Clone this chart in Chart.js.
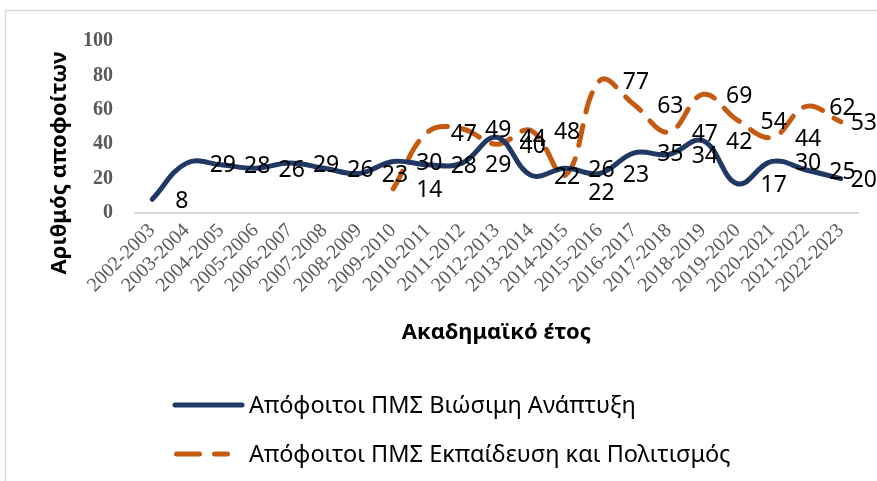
<!DOCTYPE html>
<html>
<head>
<meta charset="utf-8">
<script src="https://cdn.jsdelivr.net/npm/chart.js@4.4.1/dist/chart.umd.min.js"></script>
<style>
    html, body { margin: 0; padding: 0; background: #fff; }
    canvas { display: block; }
</style>
</head>
<body>
<canvas id="gradChart" width="877" height="481"></canvas>
<script>
const years = [
    '2002-2003', '2003-2004', '2004-2005', '2005-2006', '2006-2007', '2007-2008', '2008-2009',
    '2009-2010', '2010-2011', '2011-2012', '2012-2013', '2013-2014', '2014-2015', '2015-2016',
    '2016-2017', '2017-2018', '2018-2019', '2019-2020', '2020-2021', '2021-2022', '2022-2023'
];
const sustainableDev = [8, 29, 28, 26, 29, 26, 23, 30, 28, 29, 44, 22, 26, 23, 35, 34, 42, 17, 30, 25, 20];
const educationCulture = [null, null, null, null, null, null, null, 14, 47, 49, 40, 48, 22, 77, 63, 47, 69, 54, 44, 62, 53];
const yTicks = [0, 20, 40, 60, 80, 100];

const seriesNames = ['Απόφοιτοι ΠΜΣ Βιώσιμη Ανάπτυξη', 'Απόφοιτοι ΠΜΣ Εκπαίδευση και Πολιτισμός'];
const yTitle = 'Αριθμός αποφοίτων';
const xTitle = 'Ακαδημαϊκό έτος';

const BLUE = '#1f3864';
const ORANGE = '#c55a11';
const TITLE_FONT = 'bold 22px "Noto Sans", sans-serif';

// value labels sit to the right of each point (as in the original sheet)
const valueLabels = {
    id: 'valueLabels',
    afterDatasetsDraw(chart) {
        const ctx = chart.ctx;
        ctx.save();
        ctx.font = '23px "Noto Sans", sans-serif';
        ctx.fillStyle = '#000';
        ctx.textAlign = 'left';
        ctx.textBaseline = 'middle';
        chart.data.datasets.forEach((ds, i) => {
            const meta = chart.getDatasetMeta(i);
            meta.data.forEach((pt, j) => {
                const v = ds.data[j];
                if (v === null) return;
                const txt = String(v);
                const w = ctx.measureText(txt).width;
                const nudge = (ds.nudge && ds.nudge[j]) || 0;
                const x = Math.min(pt.x + 23, chart.width - w);
                ctx.fillText(txt, x, pt.y + 2 + nudge);
            });
        });
        ctx.restore();
    }
};

// frame, y title and legend (one item per row, left aligned)
const frameAndLegend = {
    id: 'frameAndLegend',
    beforeDraw(chart) {
        const ctx = chart.ctx;
        ctx.save();
        ctx.strokeStyle = '#d9d9d9';
        ctx.lineWidth = 1.5;
        ctx.strokeRect(5.5, 10.5, 1000, 1000);
        ctx.restore();
    },
    afterDraw(chart) {
        const ctx = chart.ctx;
        ctx.save();
        ctx.translate(60, 163);
        ctx.rotate(-Math.PI / 2);
        ctx.font = TITLE_FONT;
        ctx.fillStyle = '#000';
        ctx.textAlign = 'center';
        ctx.textBaseline = 'middle';
        ctx.fillText(yTitle, 0, 0);
        ctx.restore();

        const rows = [405, 454];
        const samples = [
            { from: 175, to: 242, dash: [] },
            { from: 176.5, to: 227.5, dash: [23, 15] }
        ];
        ctx.save();
        ctx.lineWidth = 5;
        ctx.lineCap = 'round';
        chart.data.datasets.forEach((ds, i) => {
            const y = rows[i];
            ctx.strokeStyle = ds.borderColor;
            ctx.setLineDash(samples[i].dash);
            ctx.beginPath();
            ctx.moveTo(samples[i].from, y);
            ctx.lineTo(samples[i].to, y);
            ctx.stroke();
            ctx.setLineDash([]);
            ctx.fillStyle = '#000';
            ctx.font = '23.5px "Noto Sans", sans-serif';
            ctx.textAlign = 'left';
            ctx.textBaseline = 'middle';
            ctx.fillText(ds.label, 249, y + 1);
        });
        ctx.restore();
    }
};

new Chart(document.getElementById('gradChart'), {
    type: 'line',
    data: {
        labels: years,
        datasets: [
            {
                label: seriesNames[0],
                data: sustainableDev,
                borderColor: BLUE,
                borderWidth: 5,
                borderCapStyle: 'round',
                tension: 0.4,
                pointRadius: 0,
                fill: false
            },
            {
                label: seriesNames[1],
                data: educationCulture,
                borderColor: ORANGE,
                borderWidth: 5,
                borderDash: [20, 14],
                borderCapStyle: 'round',
                tension: 0.4,
                pointRadius: 0,
                fill: false,
                nudge: { 12: 16 }
            }
        ]
    },
    options: {
        responsive: false,
        animation: false,
        devicePixelRatio: 1,
        layout: { padding: { left: 47, top: 41, right: 19, bottom: 135 } },
        plugins: {
            legend: { display: false },
            tooltip: { enabled: false }
        },
        scales: {
            x: {
                offset: true,
                grid: { display: false, drawTicks: false },
                border: { display: true, color: '#d9d9d9', width: 2 },
                ticks: {
                    autoSkip: false,
                    minRotation: 45,
                    maxRotation: 45,
                    padding: 6,
                    color: '#595959',
                    font: { family: '"Liberation Serif", "Times New Roman", serif', size: 20 }
                },
                title: {
                    display: true,
                    text: xTitle,
                    color: '#000',
                    padding: 0,
                    font: { family: '"Noto Sans", sans-serif', size: 22, weight: 'bold' }
                },
                afterFit: scale => { scale.height = 133; }
            },
            y: {
                min: 0,
                max: 100,
                afterBuildTicks: scale => { scale.ticks = yTicks.map(v => ({ value: v })); },
                grid: { display: false, drawTicks: false },
                border: { display: false },
                ticks: {
                    padding: 22,
                    color: '#595959',
                    font: { family: '"Liberation Serif", "Times New Roman", serif', size: 20, weight: 'bold' }
                },
                afterFit: scale => { scale.width = 88; }
            }
        }
    },
    plugins: [valueLabels, frameAndLegend]
});
</script>
</body>
</html>
